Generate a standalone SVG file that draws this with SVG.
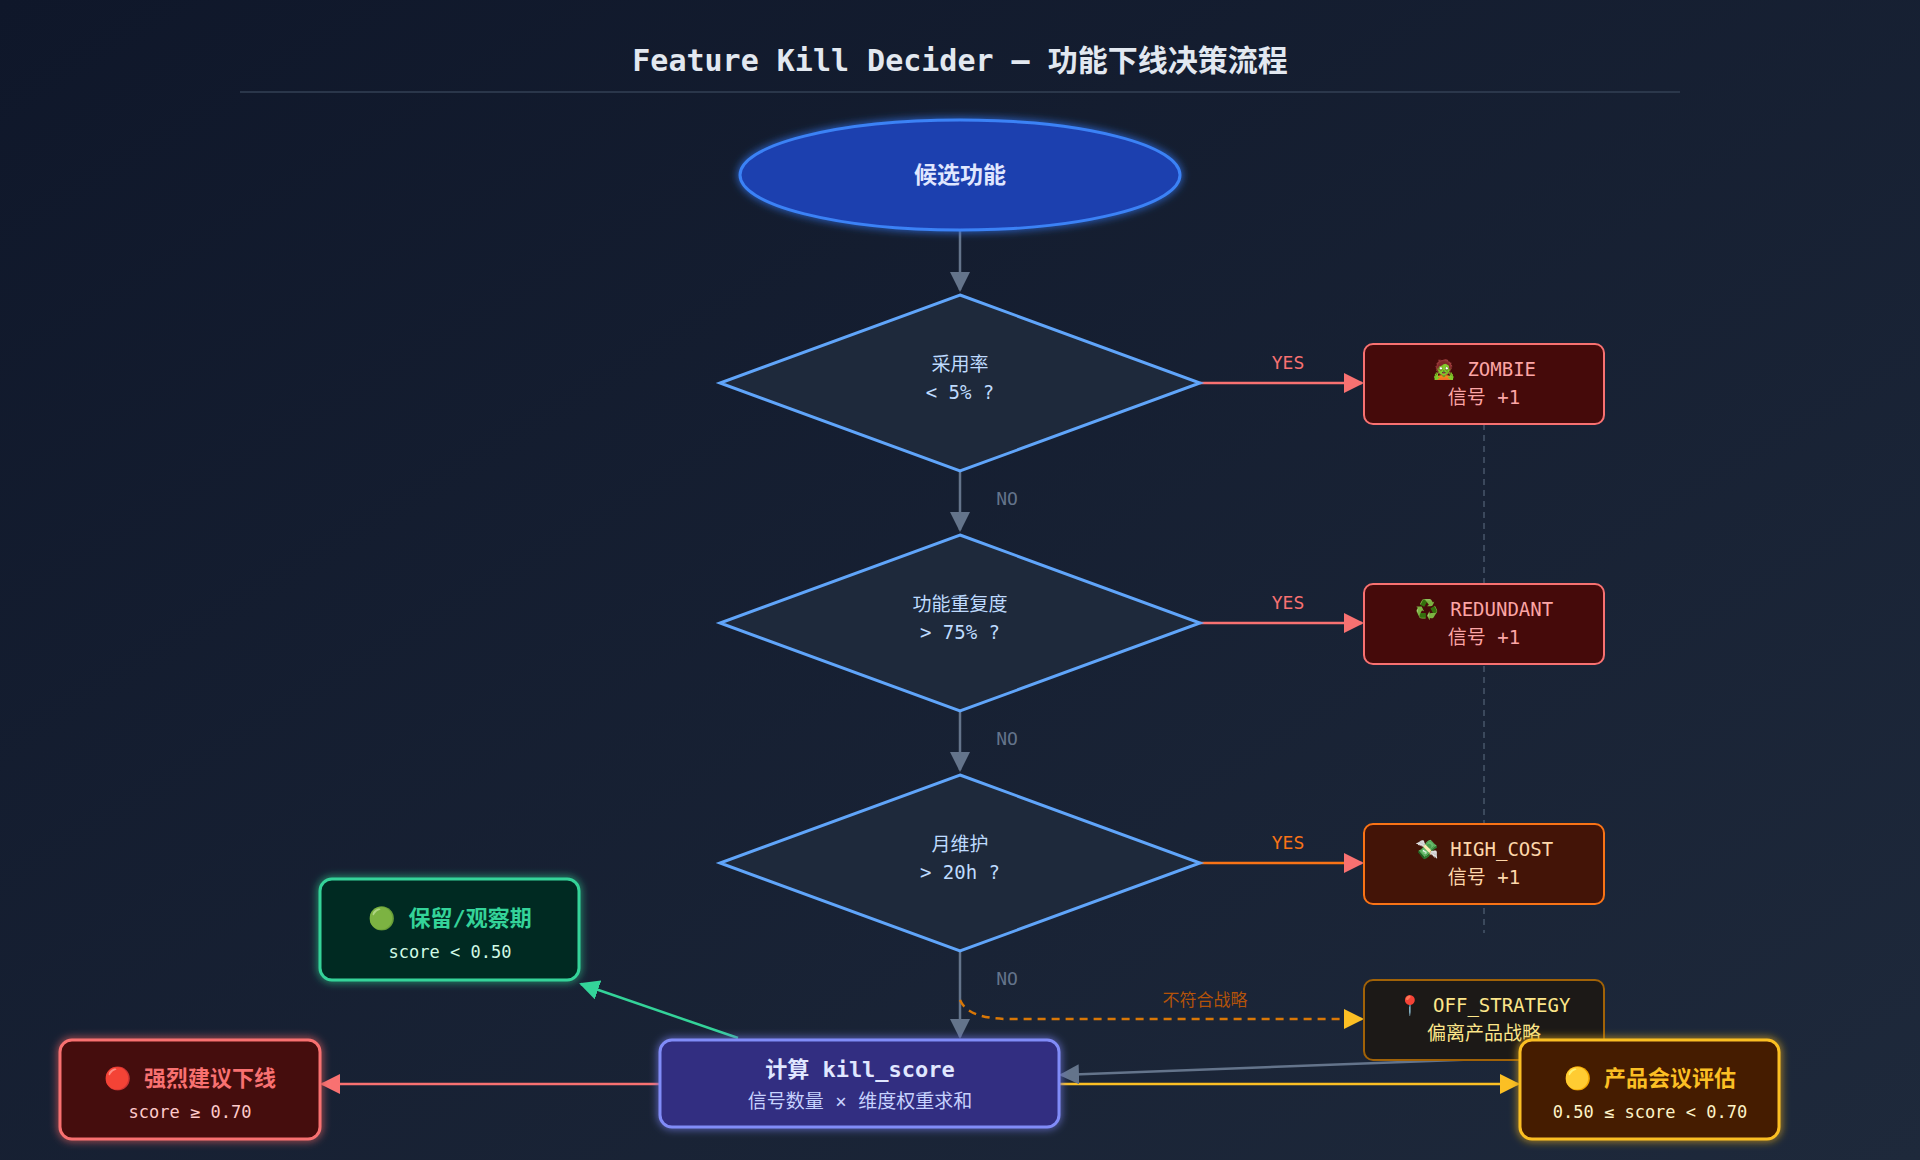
<svg xmlns="http://www.w3.org/2000/svg" width="1920" height="1160" viewBox="0 0 1920 1160">
<defs>
<linearGradient id="bg" x1="0" y1="0" x2="1" y2="1"><stop offset="0" stop-color="#0f172a"/><stop offset="1" stop-color="#1e293b"/></linearGradient>
<filter id="glow" x="-20%" y="-20%" width="140%" height="140%"><feGaussianBlur stdDeviation="4" result="b"/><feMerge><feMergeNode in="b"/><feMergeNode in="SourceGraphic"/></feMerge></filter>
<marker id="aGray" viewBox="0 0 10 10" refX="9" refY="5" markerWidth="8" markerHeight="8" orient="auto"><path d="M0,0L10,5L0,10z" fill="#64748b"/></marker>
<marker id="aRed" viewBox="0 0 10 10" refX="9" refY="5" markerWidth="8" markerHeight="8" orient="auto"><path d="M0,0L10,5L0,10z" fill="#f87171"/></marker>
<marker id="aYel" viewBox="0 0 10 10" refX="9" refY="5" markerWidth="8" markerHeight="8" orient="auto"><path d="M0,0L10,5L0,10z" fill="#fbbf24"/></marker>
<marker id="aGrn" viewBox="0 0 10 10" refX="9" refY="5" markerWidth="8" markerHeight="8" orient="auto"><path d="M0,0L10,5L0,10z" fill="#34d399"/></marker>
</defs>
<style>
text{font-family:"DejaVu Sans Mono","Noto Sans CJK SC",monospace;text-anchor:middle}
.dia{fill:#1e293b;stroke:#60a5fa;stroke-width:3}
.dt{fill:#bfdbfe;font-size:19px}
.lbl{fill:#64748b;font-size:18px}
.yes{font-size:18px}
.sig{fill:#450a0a;stroke:#f87171;stroke-width:2}
.st{fill:#fca5a5;font-size:19px}
</style>
<rect width="1920" height="1160" fill="url(#bg)"/>
<text x="960" y="71" font-size="30" font-weight="bold" fill="#e2e8f0">Feature Kill Decider — 功能下线决策流程</text>
<line x1="240" y1="92" x2="1680" y2="92" stroke="#334155" stroke-width="1.5"/>
<g id="connectors" fill="none" stroke-width="2.5">
<line x1="960" y1="230" x2="960" y2="290" stroke="#64748b" marker-end="url(#aGray)"/>
<line x1="960" y1="471" x2="960" y2="530" stroke="#64748b" marker-end="url(#aGray)"/>
<line x1="960" y1="711" x2="960" y2="770" stroke="#64748b" marker-end="url(#aGray)"/>
<line x1="960" y1="951" x2="960" y2="1037" stroke="#64748b" marker-end="url(#aGray)"/>
<line x1="1200" y1="383" x2="1362" y2="383" stroke="#f87171" marker-end="url(#aRed)"/>
<line x1="1200" y1="623" x2="1362" y2="623" stroke="#f87171" marker-end="url(#aRed)"/>
<line x1="1200" y1="863" x2="1362" y2="863" stroke="#f97316" marker-end="url(#aRed)"/>
<path d="M960,1000 Q968,1019 1010,1019 L1362,1019" stroke="#d97706" stroke-dasharray="8,6" marker-end="url(#aYel)"/>
<line x1="1484" y1="424" x2="1484" y2="933" stroke="#475569" stroke-width="1.5" stroke-dasharray="6,5"/>
<line x1="738" y1="1038" x2="581" y2="984" stroke="#34d399" marker-end="url(#aGrn)"/>
<line x1="660" y1="1084" x2="322" y2="1084" stroke="#f87171" marker-end="url(#aRed)"/>
<line x1="1059" y1="1084" x2="1518" y2="1084" stroke="#fbbf24" marker-end="url(#aYel)"/>
<line x1="1484" y1="1059" x2="1061" y2="1075" stroke="#64748b" marker-end="url(#aGray)"/>
<text x="1007" y="505" class="lbl" stroke="none">NO</text>
<text x="1007" y="745" class="lbl" stroke="none">NO</text>
<text x="1007" y="985" class="lbl" stroke="none">NO</text>
<text x="1288" y="369" class="yes" fill="#f87171" stroke="none">YES</text>
<text x="1288" y="609" class="yes" fill="#f87171" stroke="none">YES</text>
<text x="1288" y="849" class="yes" fill="#f97316" stroke="none">YES</text>
<text x="1205" y="1006" font-size="17" fill="#b45309" stroke="none">不符合战略</text>
</g>
<g id="start"><ellipse cx="960" cy="175" rx="220" ry="55" fill="#1e40af" stroke="#3b82f6" stroke-width="3" filter="url(#glow)"/><text x="960" y="183" font-size="23" font-weight="bold" fill="#e0e7ff">候选功能</text></g>
<g id="d1"><polygon class="dia" points="960,295 1200,383 960,471 720,383"/><text x="960" y="371" class="dt">采用率</text><text x="960" y="399" class="dt">&lt; 5% ?</text></g>
<g id="d2"><polygon class="dia" points="960,535 1200,623 960,711 720,623"/><text x="960" y="611" class="dt">功能重复度</text><text x="960" y="639" class="dt">&gt; 75% ?</text></g>
<g id="d3"><polygon class="dia" points="960,775 1200,863 960,951 720,863"/><text x="960" y="851" class="dt">月维护</text><text x="960" y="879" class="dt">&gt; 20h ?</text></g>
<g id="zombie"><rect class="sig" x="1364" y="344" width="240" height="80" rx="9"/><text x="1484" y="376" class="st">🧟 ZOMBIE</text><text x="1484" y="404" class="st">信号 +1</text></g>
<g id="redundant"><rect class="sig" x="1364" y="584" width="240" height="80" rx="9"/><text x="1484" y="616" class="st">♻️ REDUNDANT</text><text x="1484" y="644" class="st">信号 +1</text></g>
<g id="highcost"><rect x="1364" y="824" width="240" height="80" rx="9" fill="#431407" stroke="#f97316" stroke-width="2"/><text x="1484" y="856" class="st" fill="#fed7aa" style="fill:#fed7aa">💸 HIGH_COST</text><text x="1484" y="884" class="st" style="fill:#fed7aa">信号 +1</text></g>
<g id="offstrategy"><rect x="1364" y="980" width="240" height="80" rx="9" fill="#1c1917" stroke="#a16207" stroke-width="2"/><text x="1484" y="1012" font-size="19" fill="#fde68a">📍 OFF_STRATEGY</text><text x="1484" y="1040" font-size="19" fill="#fde68a">偏离产品战略</text></g>
<g id="keep"><rect x="320" y="879" width="259" height="101" rx="12" fill="#022c22" stroke="#34d399" stroke-width="3" filter="url(#glow)"/><text x="450" y="926" font-size="22" font-weight="bold" fill="#34d399">🟢 保留/观察期</text><text x="450" y="958" font-size="17" fill="#d1fae5">score &lt; 0.50</text></g>
<g id="calc"><rect x="660" y="1040" width="399" height="87" rx="12" fill="#312e81" stroke="#818cf8" stroke-width="3" filter="url(#glow)"/><text x="860" y="1077" font-size="22" font-weight="bold" fill="#e0e7ff">计算 kill_score</text><text x="860" y="1108" font-size="19" fill="#c7d2fe">信号数量 × 维度权重求和</text></g>
<g id="kill"><rect x="60" y="1040" width="260" height="99" rx="12" fill="#450a0a" stroke="#f87171" stroke-width="3" filter="url(#glow)"/><text x="190" y="1086" font-size="22" font-weight="bold" fill="#f87171">🔴 强烈建议下线</text><text x="190" y="1118" font-size="17" fill="#fecaca">score ≥ 0.70</text></g>
<g id="review"><rect x="1520" y="1040" width="259" height="99" rx="12" fill="#451a03" stroke="#fbbf24" stroke-width="3" filter="url(#glow)"/><text x="1650" y="1086" font-size="22" font-weight="bold" fill="#fbbf24">🟡 产品会议评估</text><text x="1650" y="1118" font-size="17" fill="#fef3c7">0.50 ≤ score &lt; 0.70</text></g>
</svg>
